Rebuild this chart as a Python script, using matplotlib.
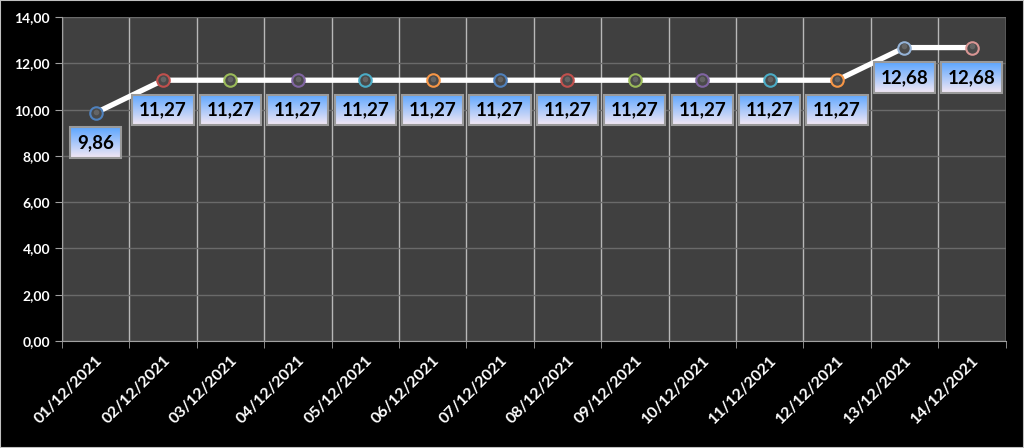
import numpy as np
import matplotlib
matplotlib.use("Agg")
import matplotlib.pyplot as plt
from matplotlib.ticker import FuncFormatter, MultipleLocator, FixedLocator

# data
dates = ["01/12/2021", "02/12/2021", "03/12/2021", "04/12/2021", "05/12/2021",
         "06/12/2021", "07/12/2021", "08/12/2021", "09/12/2021", "10/12/2021",
         "11/12/2021", "12/12/2021", "13/12/2021", "14/12/2021"]
values = [9.86, 11.27, 11.27, 11.27, 11.27, 11.27, 11.27, 11.27, 11.27, 11.27,
          11.27, 11.27, 12.68, 12.68]
marker_edges = ["#4F81BD", "#C0504D", "#9BBB59", "#8064A2", "#4BACC6", "#F79646",
                "#4F81BD", "#C0504D", "#9BBB59", "#8064A2", "#4BACC6", "#F79646",
                "#95B3D7", "#D99694"]

plt.rcParams['font.family'] = ['Lato', 'DejaVu Sans']

fig = plt.figure(figsize=(10.24, 4.48), dpi=100, facecolor="black")
ax = fig.add_axes([0.0605, 0.2388, 0.9215, 0.7232])
ax.set_facecolor("#404040")

x = np.arange(len(dates))
ax.plot(x, values, color="white", lw=3.8, zorder=3)
for xi, v, c in zip(x, values, marker_edges):
    ax.plot(xi, v, "o", ms=9, mfc="#4a4a4a", mec=c, mew=1.5, zorder=4)
    ax.plot(xi, v + 0.05, "o", ms=4, mfc="#777777", mec="none", alpha=0.6, zorder=4)

ax.set_xlim(-0.5, len(dates) - 0.5)
ax.set_ylim(0, 14)
ax.yaxis.set_major_locator(MultipleLocator(2))
ax.yaxis.set_major_formatter(FuncFormatter(lambda v, p: f"{v:.2f}".replace(".", ",")))
ax.set_xticks(x)
ax.set_xticklabels(dates, rotation=45, ha="right", rotation_mode="anchor",
                   fontsize=11.5, fontweight="bold", color="white")
ax.xaxis.set_minor_locator(FixedLocator(np.arange(-0.5, len(dates), 1)))
ax.tick_params(axis="x", which="major", length=0, pad=9)
ax.tick_params(axis="x", which="minor", length=5, color="#a0a0a0")
ax.tick_params(axis="y", length=5, color="#a0a0a0", labelsize=10, labelcolor="white")
for lab in ax.get_yticklabels():
    lab.set_fontweight("bold")

ax.grid(axis="y", color="#6a6a6a", lw=1)
ax.grid(axis="x", which="minor", color="#b8b8b8", lw=1)
ax.set_axisbelow(True)
for s in ["top", "right"]:
    ax.spines[s].set_visible(False)
ax.spines["left"].set_color("#a0a0a0")
ax.spines["bottom"].set_color("#a0a0a0")

texts = []
for xi, v in zip(x, values):
    t = ax.annotate(f"{v:.2f}".replace(".", ","), (xi, v), xytext=(0, -21.5),
                    textcoords="offset points", ha="center", va="center",
                    fontsize=13.5, fontweight="bold", color="black", zorder=6,
                    bbox=dict(boxstyle="square,pad=0.36", fc="none", ec="#9a9a9a", lw=1.5))
    texts.append(t)

# gradient fill behind labels
fig.canvas.draw()
grad = np.linspace(0, 1, 64)[:, None]
top = np.array([0x5c, 0xa6, 0xff]) / 255
bot = np.array([0xf4, 0xe8, 0xf4]) / 255
img = (top[None, None, :] * (1 - grad[:, :, None]) + bot[None, None, :] * grad[:, :, None])
inv = ax.transData.inverted()
for t in texts:
    bb = t.get_bbox_patch().get_window_extent()
    (x0, y0), (x1, y1) = inv.transform([(bb.x0, bb.y0), (bb.x1, bb.y1)])
    ax.imshow(img, extent=(x0, x1, y0, y1), origin="upper", aspect="auto", zorder=5)
ax.set_xlim(-0.5, len(dates) - 0.5)
ax.set_ylim(0, 14)

fig.patches.append(plt.Rectangle((0, 0), 1, 1, transform=fig.transFigure, fill=False,
                                 ec="#c0c0c0", lw=1.5))
fig.savefig("out.png", dpi=100, facecolor="black")
